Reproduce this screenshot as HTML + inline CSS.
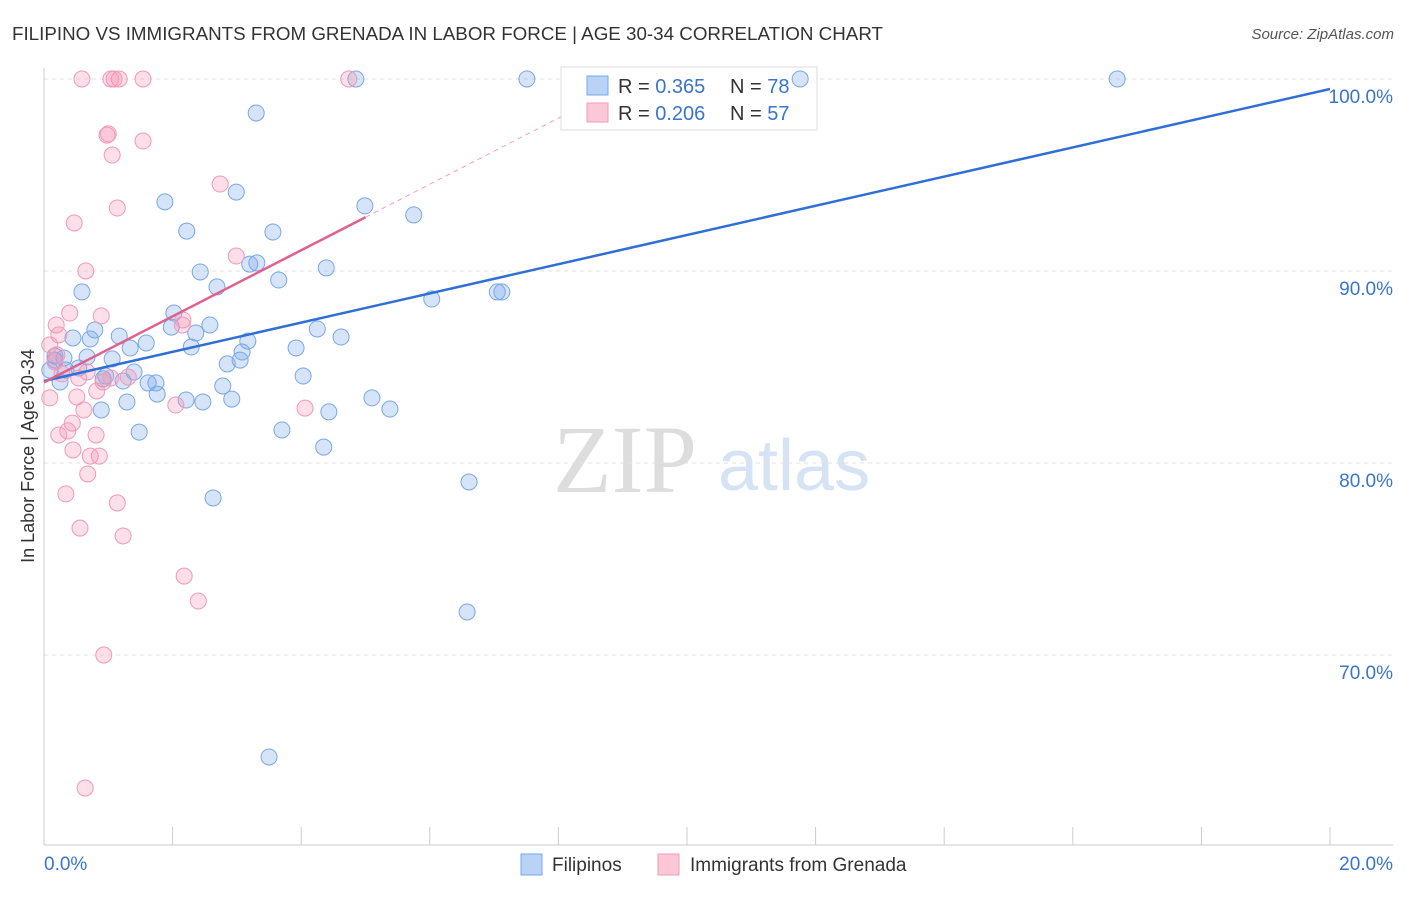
<!DOCTYPE html>
<html><head><meta charset="utf-8"><style>
body{margin:0;background:#fff;font-family:"Liberation Sans",sans-serif;}
svg text{font-family:"Liberation Sans",sans-serif;}
</style></head><body>
<svg id="chart" width="1406" height="892">
<text x="12" y="40" font-size="18" fill="#333" textLength="871" lengthAdjust="spacingAndGlyphs">FILIPINO VS IMMIGRANTS FROM GRENADA IN LABOR FORCE | AGE 30-34 CORRELATION CHART</text>
<text x="1394" y="39" font-size="15" fill="#555" font-style="italic" text-anchor="end">Source: ZipAtlas.com</text>
<text x="34" y="456" font-size="18" fill="#333" text-anchor="middle" transform="rotate(-90 34 456)">In Labor Force | Age 30-34</text>
<g>
<text x="553" y="492" font-size="96" fill="#ddd" style="font-family:'Liberation Serif',serif">ZIP</text>
<text x="718" y="490" font-size="72" fill="#d5e3f5">atlas</text>
</g>
<g id="grid"></g><g id="axes"></g><g id="lines"></g>
<g>
<rect x="561" y="67" width="256" height="63" fill="#fff" stroke="#ddd"/>
<rect x="587" y="76" width="21" height="19" fill="#b8d3f5" stroke="#7aa7e6"/>
<rect x="587" y="103" width="21" height="19" fill="#fcc8d8" stroke="#f09ab6"/>
<text x="618" y="93" font-size="20" fill="#333">R = <tspan fill="#3a74cc">0.365</tspan><tspan x="730">N = </tspan><tspan fill="#3a74cc">78</tspan></text>
<text x="618" y="120" font-size="20" fill="#333">R = <tspan fill="#3a74cc">0.206</tspan><tspan x="730">N = </tspan><tspan fill="#3a74cc">57</tspan></text>
</g>
<g id="pts"></g>
<g>
<rect x="521" y="854" width="21" height="21" fill="#b8d3f5" stroke="#7aa7e6"/>
<text x="552" y="871" font-size="19" fill="#333">Filipinos</text>
<rect x="658" y="854" width="21" height="21" fill="#fcc8d8" stroke="#f09ab6"/>
<text x="690" y="871" font-size="19" fill="#333">Immigrants from Grenada</text>
</g>
</svg>
<script>
const yTicks=[100,90,80,70];
const xTickLabels=["0.0%","20.0%"];
const blueX=[7.51,11.76,16.69,4.85,3.30,1.88,2.99,4.99,5.75,2.22,3.56,3.31,3.20,2.43,4.39,3.65,2.69,0.59,6.03,7.05,7.12,2.02,2.58,1.98,4.25,0.79,4.62,0.45,1.17,0.72,2.36,3.17,1.59,1.34,2.29,3.92,3.08,0.31,0.67,1.06,0.17,2.85,3.05,1.40,0.96,0.92,1.23,4.03,1.62,1.74,2.78,1.76,2.21,2.47,2.92,1.29,5.10,0.89,4.43,5.38,1.48,3.70,4.35,6.61,2.63,6.58,3.50,0.17,0.09,0.34,0.54,0.25];
const blueY=[100,100,100,100,98.23,93.6,94.11,93.39,92.92,92.08,92.03,90.42,90.36,89.95,90.16,89.53,89.17,88.91,88.54,88.91,88.91,87.81,87.19,87.08,86.98,86.93,86.56,86.51,86.61,86.46,86.77,86.35,86.25,85.99,86.04,85.99,85.78,85.47,85.52,85.42,85.36,85.16,85.36,84.74,84.53,84.38,84.27,84.53,84.17,84.17,84.01,83.59,83.28,83.18,83.33,83.18,83.39,82.76,82.66,82.81,81.61,81.72,80.83,79.01,78.18,72.24,64.69,85.57,84.84,84.84,84.95,84.22];
const pinkX=[0.59,1.09,1.17,1.54,4.74,1.04,0.98,1.00,1.54,1.06,2.74,1.14,0.47,2.99,0.65,0.19,0.40,0.89,0.23,2.16,2.15,0.09,0.20,0.17,0.28,0.67,0.54,0.92,1.04,1.31,0.82,0.51,0.09,0.62,2.05,4.06,0.44,0.37,0.23,0.81,0.72,0.86,0.45,0.68,0.34,1.14,0.56,1.23,2.18,2.40,0.93,0.64];
const pinkY=[100,100,100,100,100,100,97.08,97.14,96.77,96.04,94.53,93.28,92.5,90.78,90,87.19,87.81,87.66,86.67,87.45,87.19,86.15,85.63,85.26,84.64,84.74,84.43,84.22,84.43,84.48,83.75,83.44,83.39,82.76,83.02,82.86,82.08,81.67,81.46,81.46,80.36,80.36,80.68,79.43,78.39,77.92,76.61,76.2,74.11,72.81,70,63.07];
const blueTrend=[84.27,99.48];
const pinkTrend=[84.2,92.8,5.0];
const NS="http://www.w3.org/2000/svg";
const sx=v=>44+v*64.3, sy=v=>79+(100-v)*19.2;
function mk(tag,attrs,parent){const e=document.createElementNS(NS,tag);for(const k in attrs)e.setAttribute(k,attrs[k]);document.getElementById(parent).appendChild(e);return e;}
yTicks.forEach(t=>{
 const g=mk('line',{x1:44,x2:1393,y1:sy(t),y2:sy(t),stroke:'#e2e2e2','stroke-dasharray':'4 4'},'grid');
 
 
 const l=mk('text',{x:1393,y:sy(t)+24,'font-size':19,fill:'#3a74cc','text-anchor':'end'},'axes');
 l.textContent=t.toFixed(1)+'%';
 
 
});
let a=mk('line',{x1:44,x2:44,y1:68,y2:845,stroke:'#ccc'},'axes');


a=mk('line',{x1:44,x2:1393,y1:845,y2:845,stroke:'#ccc'},'axes');


for(let i=2;i<=20;i+=2){const t=mk('line',{x1:sx(i),x2:sx(i),y1:827,y2:845,stroke:'#ccc'},'axes');
 
 }
let xl=mk('text',{x:44,y:870,'font-size':19,fill:'#3a74cc'},'axes');xl.textContent=xTickLabels[0];


xl=mk('text',{x:1393,y:870,'font-size':19,fill:'#3a74cc','text-anchor':'end'},'axes');xl.textContent=xTickLabels[1];


blueX.forEach((x,i)=>{const c=mk('circle',{cx:sx(x),cy:sy(blueY[i]),r:8,fill:'rgba(120,165,235,0.3)',stroke:'#7aa7e6','stroke-width':1},'pts');
 
 });
pinkX.forEach((x,i)=>{const c=mk('circle',{cx:sx(x),cy:sy(pinkY[i]),r:8,fill:'rgba(245,150,180,0.3)',stroke:'#f09ab6','stroke-width':1},'pts');
 
 });
let ln=mk('line',{x1:sx(0),y1:sy(blueTrend[0]),x2:sx(20),y2:sy(blueTrend[1]),stroke:'#2f6fd6','stroke-width':2.5},'pts');


const slope=(pinkTrend[1]-pinkTrend[0])/pinkTrend[2];
ln=mk('line',{x1:sx(0),y1:sy(pinkTrend[0]),x2:sx(pinkTrend[2]),y2:sy(pinkTrend[1]),stroke:'#e0608e','stroke-width':2.5},'pts');


const xe=(100-pinkTrend[0])/slope;
ln=mk('line',{x1:sx(pinkTrend[2]),y1:sy(pinkTrend[1]),x2:sx(xe),y2:sy(100),stroke:'#f0a0bb','stroke-width':1,'stroke-dasharray':'5 4'},'lines');


</script>
</body></html>
